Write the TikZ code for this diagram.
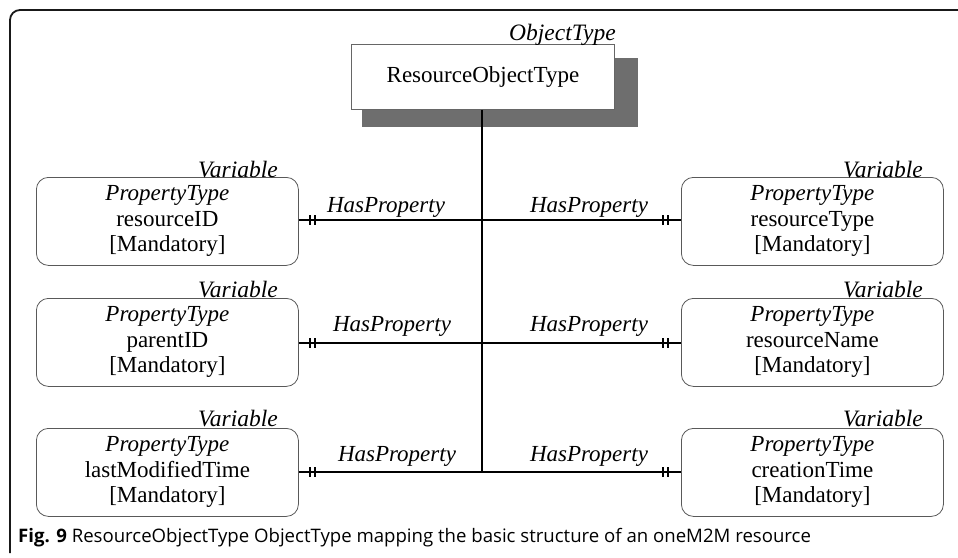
\documentclass[tikz,border=0pt]{standalone}
\usepackage{fontspec}
\setmainfont{Liberation Serif}
\newfontfamily\capfont{Open Sans}
\begin{document}
\begin{tikzpicture}[x=1pt,y=-1pt,
  propbox/.style={draw=black!65,line width=0.8pt,rounded corners=12pt,minimum width=262pt,minimum height=88pt,align=center,inner sep=0pt,font=\fontsize{23}{25.5}\selectfont},
  tag/.style={font=\fontsize{23.5}{25}\selectfont\itshape,inner sep=0pt,anchor=base east},
  rel/.style={font=\fontsize{23}{25}\selectfont\itshape,inner sep=0pt,anchor=base},
  conn/.style={line width=1.6pt,black},
  tick/.style={line width=1.2pt,black}
]
\useasboundingbox (0,0) rectangle (958,557);
% outer frame
\draw[line width=1.8pt,black!90,rounded corners=10pt] (10,553) -- (10,10) -- (960,10);
% shadow and object type box
\fill[black!57] (362,58) rectangle (638,127);
\node[draw=black!60,line width=0.9pt,fill=white,minimum width=263pt,minimum height=65pt,inner sep=0pt,anchor=north west,font=\fontsize{23}{25}\selectfont] (obj) at (351,44) {ResourceObjectType};
\node[tag] (objtag) at (616,40) {ObjectType};
% property boxes
\node[propbox,anchor=north west] (p1) at (36,177) {\textit{PropertyType}\\resourceID\\{}[Mandatory]};
\node[propbox,anchor=north west] (p2) at (681,177) {\textit{PropertyType}\\resourceType\\{}[Mandatory]};
\node[propbox,anchor=north west] (p3) at (36,298) {\textit{PropertyType}\\parentID\\{}[Mandatory]};
\node[propbox,anchor=north west] (p4) at (681,298) {\textit{PropertyType}\\resourceName\\{}[Mandatory]};
\node[propbox,anchor=north west] (p5) at (36,428) {\textit{PropertyType}\\lastModifiedTime\\{}[Mandatory]};
\node[propbox,anchor=north west] (p6) at (681,428) {\textit{PropertyType}\\creationTime\\{}[Mandatory]};
\node[tag] (v1) at (278,177) {Variable};
\node[tag] (v2) at (923,177) {Variable};
\node[tag] (v3) at (278,297) {Variable};
\node[tag] (v4) at (923,297) {Variable};
\node[tag] (v5) at (278,426) {Variable};
\node[tag] (v6) at (923,426) {Variable};
% junction coordinates
\coordinate (j1) at (482,220);
\coordinate (j2) at (482,343);
\coordinate (j3) at (482,472);
% connectors
\draw[conn] (obj.south -| j1) -- (j3);
\draw[conn] (p1.east |- j1) -- (j1) -- (p2.west |- j1);
\draw[conn] (p3.east |- j2) -- (j2) -- (p4.west |- j2);
\draw[conn] (p5.east |- j3) -- (j3) -- (p6.west |- j3);
% ticks
\foreach \y in {220,343,472}{
  \draw[tick] (310,\y-5) -- (310,\y+5);
  \draw[tick] (315,\y-5) -- (315,\y+5);
  \draw[tick] (663,\y-5) -- (663,\y+5);
  \draw[tick] (668,\y-5) -- (668,\y+5);
}
% relation labels
\node[rel] (r1) at (386,212) {HasProperty};
\node[rel] (r2) at (589,212) {HasProperty};
\node[rel] (r3) at (392,331) {HasProperty};
\node[rel] (r4) at (589,331) {HasProperty};
\node[rel] (r5) at (397,461) {HasProperty};
\node[rel] (r6) at (589,461) {HasProperty};
% caption
\node[anchor=base west,inner sep=0pt,font=\capfont\fontsize{18.6}{21}\selectfont] (cap) at (18,542) {\textbf{Fig. 9} ResourceObjectType ObjectType mapping the basic structure of an oneM2M resource};
\end{tikzpicture}
\end{document}
